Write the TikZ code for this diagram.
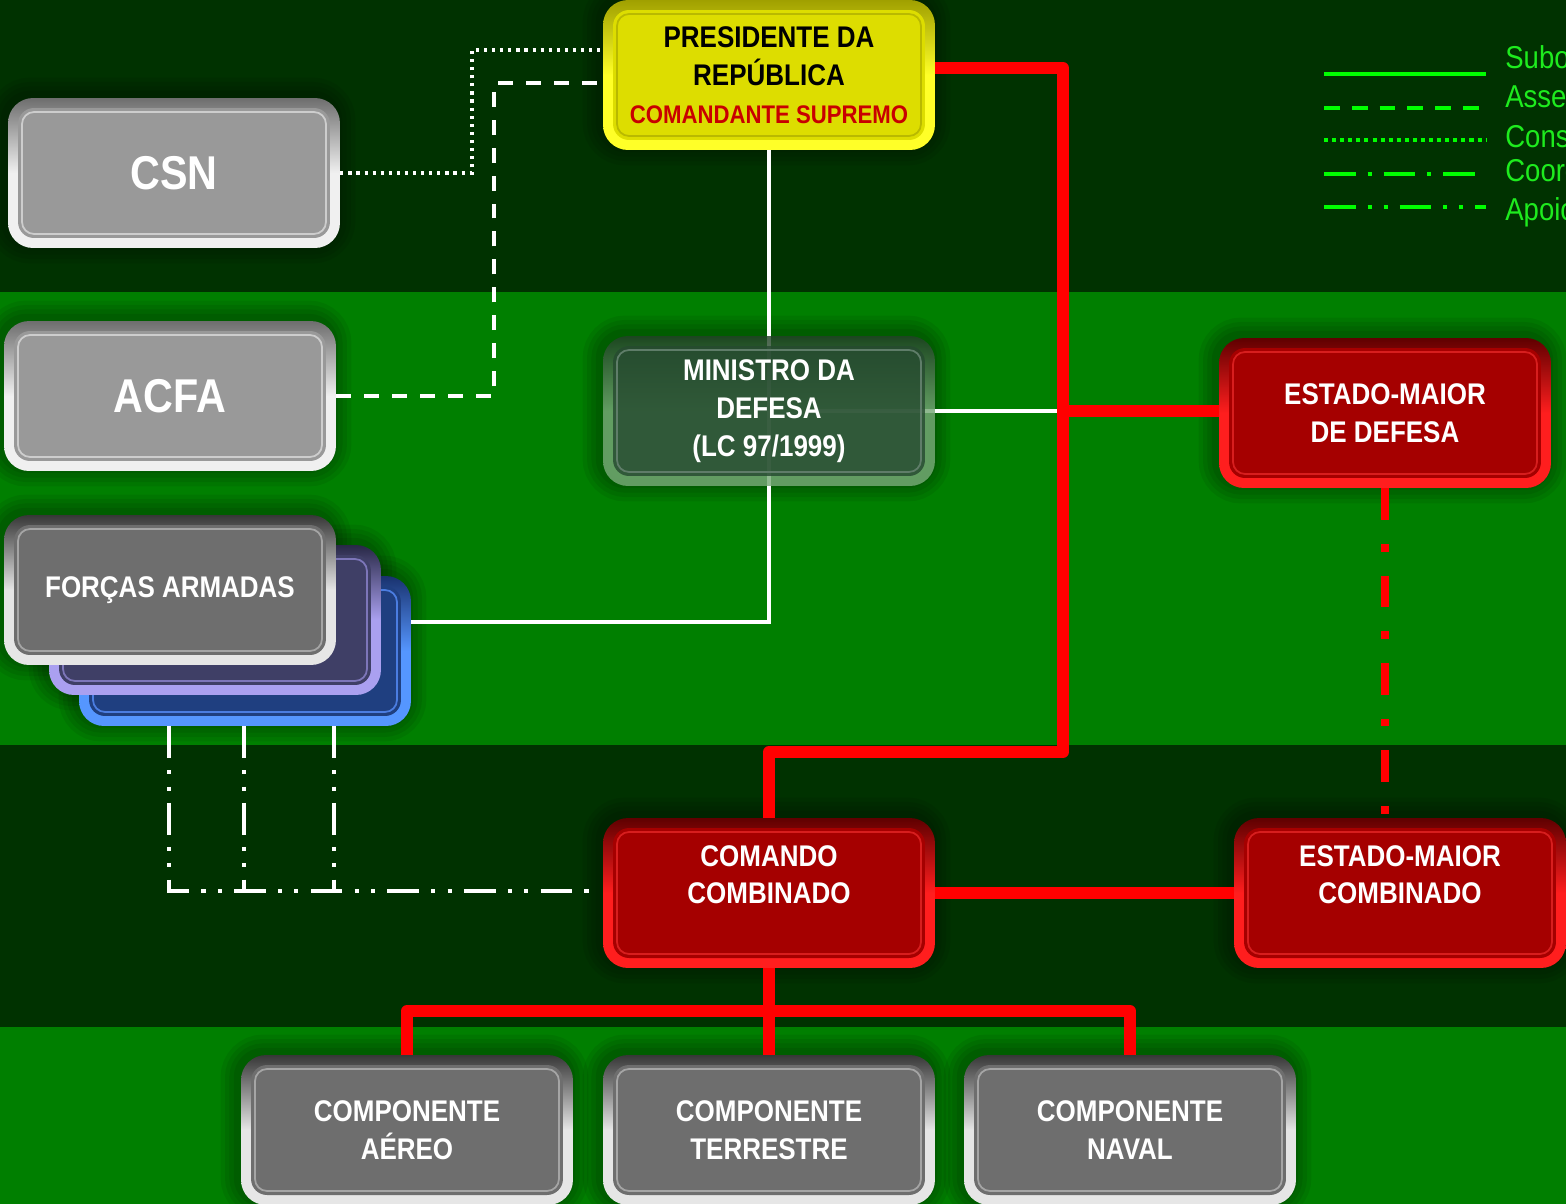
\documentclass[tikz,border=0pt]{standalone}
\usepackage{fontspec}
\setmainfont{Liberation Sans}[FakeStretch=0.87]
\usetikzlibrary{calc}
\definecolor{bgdark}{RGB}{0,50,0}
\definecolor{bgbright}{RGB}{0,127,0}
\definecolor{prfill}{RGB}{221,221,0}
\definecolor{prtop}{RGB}{160,160,0}
\definecolor{prbot}{RGB}{255,255,40}
\definecolor{prinner}{RGB}{185,185,0}
\definecolor{cmdred}{RGB}{200,0,0}
\definecolor{lgray}{RGB}{153,153,153}
\definecolor{lgtop}{RGB}{110,110,110}
\definecolor{lgbot}{RGB}{240,240,240}
\definecolor{lginner}{RGB}{205,205,205}
\definecolor{dgray}{RGB}{110,110,110}
\definecolor{dgtop}{RGB}{55,55,55}
\definecolor{dgbot}{RGB}{230,230,230}
\definecolor{dginner}{RGB}{165,165,165}
\definecolor{purfill}{RGB}{63,63,102}
\definecolor{purtop}{RGB}{40,40,70}
\definecolor{purbot}{RGB}{170,160,240}
\definecolor{purinner}{RGB}{125,118,185}
\definecolor{bluefill}{RGB}{31,63,128}
\definecolor{bluetop}{RGB}{25,50,110}
\definecolor{bluebot}{RGB}{85,150,255}
\definecolor{blueinner}{RGB}{75,125,225}
\definecolor{mdfill}{RGB}{38,74,48}
\definecolor{mdtop}{RGB}{35,65,40}
\definecolor{mdbot}{RGB}{120,170,120}
\definecolor{mdinner}{RGB}{95,125,105}
\definecolor{redfill}{RGB}{165,0,0}
\definecolor{redtop}{RGB}{95,0,0}
\definecolor{redbot}{RGB}{255,30,30}
\definecolor{redinner}{RGB}{215,30,30}
\definecolor{conred}{RGB}{255,0,0}
\definecolor{lgline}{RGB}{0,255,0}
\definecolor{lgtext}{RGB}{30,235,30}
\pgfdeclarelayer{bands}
\pgfdeclarelayer{shadows}
\pgfdeclarelayer{edges}
\pgfsetlayers{bands,shadows,edges,main}
% opt, name, pos, fill, ring top, ring bottom, inner line, text
\newcommand\mkbox[8][]{%
  \node[boxbase, top color=#5, bottom color=#6, middle color=#6,
    path picture={
      \fill[#4, rounded corners=0.32cm]
        ([shift={(0.2cm,-0.2cm)}]path picture bounding box.north west) rectangle
        ([shift={(-0.2cm,0.2cm)}]path picture bounding box.south east);
      \draw[#7, line width=1pt, rounded corners=0.24cm]
        ([shift={(0.28cm,-0.28cm)}]path picture bounding box.north west) rectangle
        ([shift={(-0.28cm,0.28cm)}]path picture bounding box.south east);
    }, #1] (#2) at (#3) {#8};
  \begin{pgfonlayer}{shadows}
    \foreach \w in {20,15,10,5}{
      \draw[black, opacity=0.07, line width=\w pt, rounded corners=0.5cm]
        ([shift={(-0.05cm,0.05cm)}]#2.south west) rectangle ([shift={(-0.05cm,0.05cm)}]#2.north east);
    }
  \end{pgfonlayer}
}
\begin{document}
\begin{tikzpicture}[x=0.02cm,y=-0.02cm,
  boxbase/.style={rounded corners=0.5cm, minimum width=6.64cm,
    minimum height=3cm, align=center, text=white, inner sep=0pt,
    font=\bfseries\fontsize{17}{21.5}\selectfont},
  sub/.style={draw=white, line width=2.3pt},
  subred/.style={draw=conred, line width=6.6pt, line join=round},
  assess/.style={draw=white, line width=2.3pt, dash pattern=on 8.5pt off 7.4pt},
  consult/.style={draw=white, line width=1.8pt, dash pattern=on 1.8pt off 2.8pt},
  coordl/.style={draw=conred, line width=4.5pt, dash pattern=on 18pt off 13.6pt on 4.5pt off 13.6pt},
  apoio/.style={draw=white, line width=2pt, dash pattern=on 18pt off 7pt on 2.3pt off 7pt on 2.3pt off 7pt},
  lgbase/.style={draw=lgline, line width=2.4pt},
  lgtxt/.style={anchor=west, text=lgtext, inner sep=0pt, font=\fontsize{18}{20}\selectfont}
]
\useasboundingbox (0,0) rectangle (1566,1204);
\begin{pgfonlayer}{bands}
  \fill[bgdark] (0,0) rectangle (1566,292);
  \fill[bgbright] (0,292) rectangle (1566,745);
  \fill[bgdark] (0,745) rectangle (1566,1027);
  \fill[bgbright] (0,1027) rectangle (1566,1204);
\end{pgfonlayer}

% boxes
\mkbox[text=black]{pr}{769,75}{prfill}{prtop}{prbot}{prinner}{PRESIDENTE DA\\REPÚBLICA\\{\color{cmdred}\fontsize{14.5}{19}\selectfont COMANDANTE SUPREMO}}
\mkbox[font=\bfseries\fontsize{27}{30}\selectfont]{csn}{174,173}{lgray}{lgtop}{lgbot}{lginner}{CSN}
\mkbox[font=\bfseries\fontsize{27}{30}\selectfont]{acfa}{170,396}{lgray}{lgtop}{lgbot}{lginner}{ACFA}
\mkbox{fa3}{245,651}{bluefill}{bluetop}{bluebot}{blueinner}{}
\mkbox{fa2}{215,620}{purfill}{purtop}{purbot}{purinner}{}
\mkbox{fa1}{170,590}{dgray}{dgtop}{dgbot}{dginner}{FORÇAS ARMADAS}
\mkbox[fill opacity=0.82, text opacity=1]{md}{769,411}{mdfill}{mdtop}{mdbot}{mdinner}{MINISTRO DA\\DEFESA\\(LC 97/1999)}
\mkbox{emd}{1385,413}{redfill}{redtop}{redbot}{redinner}{ESTADO-MAIOR\\DE DEFESA}
\mkbox{cc}{769,893}{redfill}{redtop}{redbot}{redinner}{COMANDO\\COMBINADO\\[-7pt]\strut}
\mkbox{emc}{1400,893}{redfill}{redtop}{redbot}{redinner}{ESTADO-MAIOR\\COMBINADO\\[-7pt]\strut}
\mkbox{ca}{407,1130}{dgray}{dgtop}{dgbot}{dginner}{COMPONENTE\\AÉREO}
\mkbox{ct}{769,1130}{dgray}{dgtop}{dgbot}{dginner}{COMPONENTE\\TERRESTRE}
\mkbox{cn}{1130,1130}{dgray}{dgtop}{dgbot}{dginner}{COMPONENTE\\NAVAL}

% connectors
\begin{pgfonlayer}{edges}
  \coordinate (csnK) at (472,50);
  \draw[consult] (csn.east) -| (csnK) -- (csnK -| pr.west);
  \coordinate (acfaK) at (494,83);
  \draw[assess] (acfa.east) -| (acfaK) -- (acfaK -| pr.west);
  \coordinate (wK) at (769,622);
  \draw[sub] (pr.south) -- (wK) -- (wK -| fa3.east);
  \coordinate (rTop) at (1063,68);
  \coordinate (rBot) at (1063,752);
  \coordinate (rMid) at (1063,411);
  \coordinate (wS) at (817,411);
  \draw[sub] (wS) -- (rMid);
  \draw[subred] (rTop -| pr.east) -- (rTop) -- (rBot) -| (cc.north);
  \draw[subred] (rMid) -- (rMid -| emd.west);
  \draw[coordl] (emd.south) -- (emd.south |- emc.north);
  \draw[subred] (cc.east) -- (emc.west);
  \coordinate (bJ) at (769,1011);
  \draw[subred] (cc.south) -- (ct.north);
  \draw[subred] (ca.north) |- (bJ) -| (cn.north);
  \coordinate (aK) at (169,891);
  \coordinate (a2) at (244,891);
  \coordinate (a3) at (334,891);
  \coordinate (aEnd) at (590,891);
  \draw[apoio] (fa3.south -| aK) -- (aK) -- (aEnd);
  \draw[apoio] (fa3.south -| a2) -- (a2);
  \draw[apoio] (fa3.south -| a3) -- (a3);
\end{pgfonlayer}

% legend
\coordinate (la1) at (1324,74);  \coordinate (lb1) at (1486,74);
\coordinate (la2) at (1324,108); \coordinate (lb2) at (1486,108);
\coordinate (la3) at (1324,140); \coordinate (lb3) at (1486,140);
\coordinate (la4) at (1324,174); \coordinate (lb4) at (1486,174);
\coordinate (la5) at (1324,207); \coordinate (lb5) at (1486,207);
\draw[lgbase] (la1) -- (lb1);
\draw[lgbase, dash pattern=on 9pt off 6.8pt] (la2) -- (lb2);
\draw[lgbase, dash pattern=on 2.3pt off 2.3pt] (la3) -- (lb3);
\draw[lgbase, dash pattern=on 18pt off 6.8pt on 2.3pt off 6.8pt] (la4) -- (lb4);
\draw[lgbase, dash pattern=on 18pt off 6.8pt on 2.3pt off 6.8pt on 2.3pt off 6.8pt] (la5) -- (lb5);
\node[lgtxt] (lt1) at (1505,60) {Subordinação};
\node[lgtxt] (lt2) at (1505,97) {Assessoramento};
\node[lgtxt] (lt3) at (1505,136) {Consultoria};
\node[lgtxt] (lt4) at (1505,173) {Coordenação};
\node[lgtxt] (lt5) at (1505,212) {Apoio};
\end{tikzpicture}
\end{document}
